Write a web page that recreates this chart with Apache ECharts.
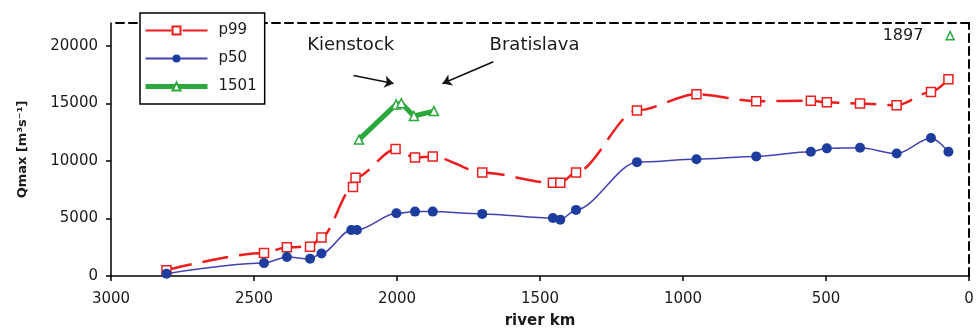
<!DOCTYPE html>
<html>
<head>
<meta charset="utf-8">
<title>Qmax along the Danube</title>
<script src="https://cdn.jsdelivr.net/npm/echarts@6/dist/echarts.min.js"></script>
<style>
  html, body { margin: 0; padding: 0; background: #fff; }
  #chart { width: 979px; height: 335px; }
</style>
</head>
<body>
<div id="chart"></div>
<script>
// river km along the Danube (decreasing downstream) and peak discharge values
const riverKm = [2806, 2465, 2385, 2304, 2264, 2154, 2145, 2005, 1937, 1875, 1702,
                 1455, 1429, 1374, 1161, 953, 744, 553, 497, 381, 253, 133, 72];
const p50Km   = [2806, 2465, 2385, 2304, 2264, 2160, 2140, 2002, 1937, 1875, 1702,
                 1455, 1429, 1374, 1161, 953, 744, 553, 497, 381, 253, 133, 72];
const p99 = [500, 2000, 2500, 2550, 3350, 7750, 8550, 11050, 10300, 10400, 9000,
             8100, 8100, 9000, 14400, 15800, 15200, 15250, 15100, 15000, 14850, 16000, 17100];
const p50 = [200, 1120, 1650, 1500, 1950, 4000, 4000, 5450, 5600, 5600, 5400,
             5050, 4900, 5750, 9900, 10150, 10400, 10800, 11100, 11150, 10650, 12000, 10800];

// historic flood of 1501 between Kienstock and Bratislava
const flood1501Km = [2133, 2003, 1985, 1941, 1871];
const flood1501   = [11860, 14920, 15030, 13910, 14340];

// flood of 1897 near the mouth
const flood1897 = [[66, 20900]];

// gauge names and their pointer arrows, in [km, Qmax]
const gaugeNames = [['Kienstock', 2162, 20030], ['Bratislava', 1519, 20030]];
const gaugeArrows = [
  [[2152, 17430], [2012, 16740]],
  [[1663, 18640], [1841, 16740]]
];

// axis ticks
const kmTicks = [0, 500, 1000, 1500, 2000, 2500, 3000];
const qTicks  = [0, 5000, 10000, 15000, 20000];

const FONT = 'DejaVu Sans';
const pairs = (xs, ys) => xs.map((x, i) => [x, ys[i]]);
const plain = v => String(v);

const RED = '#ee1d1d';
const BLUE_LINE = '#4242b4';
const BLUE_DOT = '#1c3c9e';
const GREEN = '#2ba83c';

const chart = echarts.init(document.getElementById('chart'), null, { renderer: 'canvas' });

chart.setOption({
  animation: false,
  backgroundColor: '#fff',
  textStyle: { fontFamily: FONT },
  grid: { left: 111, right: 10, top: 23, bottom: 59, containLabel: false },
  legend: {
    data: [
      { name: 'p99' },
      { name: 'p50' },
      { name: '1501', lineStyle: { width: 5 } }
    ],
    orient: 'vertical',
    left: 140,
    top: 13,
    padding: [10, 8, 10, 3],
    itemWidth: 62,
    itemHeight: 10,
    itemGap: 13,
    backgroundColor: '#fff',
    borderColor: '#000',
    borderWidth: 1.5,
    borderRadius: 0,
    textStyle: { fontFamily: FONT, fontSize: 15, color: '#1a1a1a', padding: [0, 0, 0, 6] }
  },
  xAxis: [
    {
      type: 'value',
      min: 0,
      max: 3000,
      interval: 500,
      inverse: true,
      position: 'bottom',
      name: 'river km',
      nameLocation: 'middle',
      nameGap: 38,
      nameTextStyle: { fontFamily: FONT, fontSize: 15, fontWeight: 'bold', color: '#1a1a1a' },
      axisLine: { onZero: false, lineStyle: { color: '#000', width: 1.5 } },
      axisTick: { show: true, inside: false, length: 5, lineStyle: { color: '#000', width: 1.5 },
                  customValues: kmTicks },
      axisLabel: { fontFamily: FONT, fontSize: 15, color: '#1a1a1a', margin: 16,
                   customValues: kmTicks, formatter: plain },
      splitLine: { show: false }
    },
    {
      type: 'value',
      min: 0,
      max: 3000,
      inverse: true,
      position: 'top',
      axisLine: { show: true, onZero: false, lineStyle: { color: '#000', width: 2, type: [8, 5] } },
      axisTick: { show: false },
      axisLabel: { show: false },
      splitLine: { show: false }
    }
  ],
  yAxis: [
    {
      type: 'value',
      min: 0,
      max: 22000,
      interval: 5000,
      position: 'left',
      name: 'Qmax [m³s⁻¹]',
      nameLocation: 'middle',
      nameGap: 82,
      nameTextStyle: { fontFamily: FONT, fontSize: 13, fontWeight: 'bold', color: '#1a1a1a' },
      axisLine: { show: true, onZero: false, lineStyle: { color: '#000', width: 1.5 } },
      axisTick: { show: true, inside: false, length: 5, lineStyle: { color: '#000', width: 1.5 },
                  customValues: qTicks },
      axisLabel: { fontFamily: FONT, fontSize: 15, color: '#1a1a1a', margin: 13,
                   customValues: qTicks, formatter: plain },
      splitLine: { show: false }
    },
    {
      type: 'value',
      min: 0,
      max: 22000,
      position: 'right',
      axisLine: { show: true, onZero: false, lineStyle: { color: '#000', width: 2, type: [8, 5] } },
      axisTick: { show: false },
      axisLabel: { show: false },
      splitLine: { show: false }
    }
  ],
  series: [
    {
      name: 'p99',
      type: 'line',
      xAxisIndex: 0,
      yAxisIndex: 0,
      data: pairs(riverKm, p99),
      smooth: 0.3,
      smoothMonotone: 'x',
      symbol: 'rect',
      symbolSize: 9,
      lineStyle: { color: RED, width: 2.5, type: [26, 11] },
      itemStyle: { color: '#fff', borderColor: RED, borderWidth: 1.5 },
      z: 3
    },
    {
      name: 'p50',
      type: 'line',
      xAxisIndex: 0,
      yAxisIndex: 0,
      data: pairs(p50Km, p50),
      smooth: 0.3,
      smoothMonotone: 'x',
      symbol: 'circle',
      symbolSize: 10,
      lineStyle: { color: BLUE_LINE, width: 1.5 },
      itemStyle: { color: BLUE_DOT, borderColor: BLUE_DOT, borderWidth: 0 },
      z: 3
    },
    {
      name: '1501',
      type: 'line',
      xAxisIndex: 0,
      yAxisIndex: 0,
      data: pairs(flood1501Km, flood1501),
      symbol: 'triangle',
      symbolSize: 9,
      lineStyle: { color: GREEN, width: 5 },
      itemStyle: { color: '#fff', borderColor: GREEN, borderWidth: 1.5 },
      z: 4
    },
    {
      name: '1897',
      type: 'scatter',
      xAxisIndex: 0,
      yAxisIndex: 0,
      data: flood1897,
      symbol: 'triangle',
      symbolSize: 8,
      itemStyle: { color: '#fff', borderColor: GREEN, borderWidth: 1.5, opacity: 1 },
      label: {
        show: true,
        position: 'left',
        distance: 22,
        formatter: '1897',
        fontFamily: FONT,
        fontSize: 16,
        color: '#1a1a1a',
        opacity: 1
      },
      markLine: {
        silent: true,
        symbol: ['none', 'arrow'],
        symbolSize: 9,
        label: { show: false },
        lineStyle: { color: '#111', width: 1.6, type: 'solid' },
        data: gaugeArrows.map(([a, b]) => [{ coord: a }, { coord: b }])
      },
      markPoint: {
        silent: true,
        symbol: 'circle',
        symbolSize: 1,
        itemStyle: { color: 'rgba(0,0,0,0)' },
        label: {
          show: true,
          position: 'inside',
          formatter: '{b}',
          fontFamily: FONT,
          fontSize: 18,
          color: '#1a1a1a'
        },
        data: gaugeNames.map(([name, km, q]) => ({ name, coord: [km, q] }))
      }
    }
  ]
});
</script>
</body>
</html>
